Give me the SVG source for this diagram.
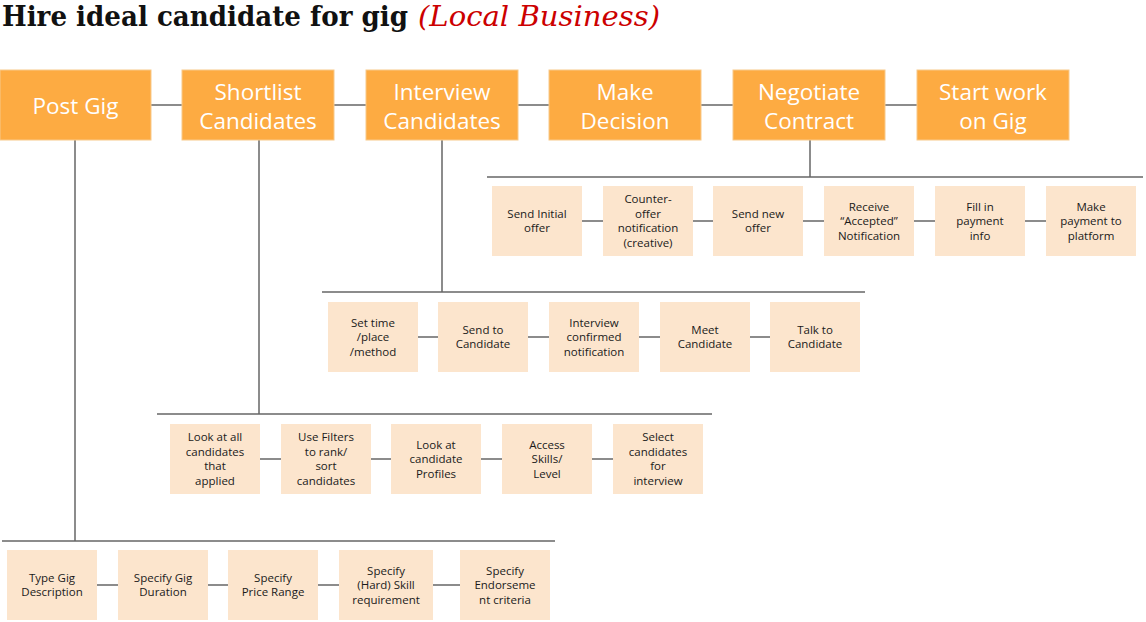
<svg xmlns="http://www.w3.org/2000/svg" width="1146" height="622" viewBox="0 0 1146 622">
<style>
.hdr{fill:#FDAB42;stroke:#F8C98A;stroke-width:1}
.hdt{font-family:"Open Sans","DejaVu Sans",sans-serif;font-size:22.5px;fill:#ffffff;text-anchor:middle}
.box{fill:#FCE5CD}
.bt{font-family:"Open Sans","DejaVu Sans",sans-serif;font-size:11.5px;fill:#1a1a1a;text-anchor:middle}
.ln{stroke:#666666;stroke-width:1.5;fill:none}
.ttl{font-family:"DejaVu Serif","Liberation Serif",serif;font-weight:bold;font-size:27px;fill:#111111}
.sub{font-family:"DejaVu Serif","Liberation Serif",serif;font-style:italic;font-size:27px;fill:#CC0000}
</style>
<rect width="1146" height="622" fill="#ffffff"/>
<g id="title">
<text x="2" y="26" class="ttl" textLength="406" lengthAdjust="spacingAndGlyphs">Hire ideal candidate for gig</text>
<text x="418" y="26" class="sub" textLength="242" lengthAdjust="spacingAndGlyphs">(Local Business)</text>
</g>
<g id="connectors">
<line class="ln" x1="151" y1="105" x2="182" y2="105"/>
<line class="ln" x1="334" y1="105" x2="366" y2="105"/>
<line class="ln" x1="518" y1="105" x2="549" y2="105"/>
<line class="ln" x1="701" y1="105" x2="733" y2="105"/>
<line class="ln" x1="885" y1="105" x2="917" y2="105"/>
<line class="ln" x1="75" y1="140" x2="75" y2="541"/>
<line class="ln" x1="259" y1="140" x2="259" y2="414"/>
<line class="ln" x1="442" y1="140" x2="442" y2="292"/>
<line class="ln" x1="810" y1="140" x2="810" y2="177"/>
<line class="ln" x1="487" y1="177" x2="1143" y2="177"/>
<line class="ln" x1="322" y1="292" x2="865" y2="292"/>
<line class="ln" x1="157" y1="414" x2="712" y2="414"/>
<line class="ln" x1="2" y1="541" x2="555" y2="541"/>
<line class="ln" x1="582" y1="221" x2="603" y2="221"/>
<line class="ln" x1="693" y1="221" x2="713" y2="221"/>
<line class="ln" x1="803" y1="221" x2="824" y2="221"/>
<line class="ln" x1="914" y1="221" x2="935" y2="221"/>
<line class="ln" x1="1025" y1="221" x2="1046" y2="221"/>
<line class="ln" x1="418" y1="337" x2="438" y2="337"/>
<line class="ln" x1="528" y1="337" x2="549" y2="337"/>
<line class="ln" x1="639" y1="337" x2="660" y2="337"/>
<line class="ln" x1="750" y1="337" x2="770" y2="337"/>
<line class="ln" x1="260" y1="459" x2="281" y2="459"/>
<line class="ln" x1="371" y1="459" x2="391" y2="459"/>
<line class="ln" x1="481" y1="459" x2="502" y2="459"/>
<line class="ln" x1="592" y1="459" x2="613" y2="459"/>
<line class="ln" x1="97" y1="585" x2="118" y2="585"/>
<line class="ln" x1="208" y1="585" x2="228" y2="585"/>
<line class="ln" x1="318" y1="585" x2="339" y2="585"/>
<line class="ln" x1="433" y1="585" x2="460" y2="585"/>
</g>
<g id="post-gig"><rect class="hdr" x="0" y="70" width="151" height="70"/><text class="hdt" x="75.5" y="114">Post Gig</text></g>
<g id="shortlist"><rect class="hdr" x="182" y="70" width="152" height="70"/><text class="hdt"><tspan x="258" y="100">Shortlist</tspan><tspan x="258" y="129">Candidates</tspan></text></g>
<g id="interview"><rect class="hdr" x="366" y="70" width="152" height="70"/><text class="hdt"><tspan x="442" y="100">Interview</tspan><tspan x="442" y="129">Candidates</tspan></text></g>
<g id="decision"><rect class="hdr" x="549" y="70" width="152" height="70"/><text class="hdt"><tspan x="625" y="100">Make</tspan><tspan x="625" y="129">Decision</tspan></text></g>
<g id="negotiate"><rect class="hdr" x="733" y="70" width="152" height="70"/><text class="hdt"><tspan x="809" y="100">Negotiate</tspan><tspan x="809" y="129">Contract</tspan></text></g>
<g id="start-work"><rect class="hdr" x="917" y="70" width="152" height="70"/><text class="hdt"><tspan x="993" y="100">Start work</tspan><tspan x="993" y="129">on Gig</tspan></text></g>

<g id="n-send-initial"><rect class="box" x="492" y="186" width="90" height="70"/><text class="bt"><tspan x="537" y="217.75">Send Initial</tspan><tspan x="537" y="232.25">offer</tspan></text></g>
<g id="n-counter"><rect class="box" x="603" y="186" width="90" height="70"/><text class="bt"><tspan x="648" y="203.25">Counter-</tspan><tspan x="648" y="217.75">offer</tspan><tspan x="648" y="232.25">notification</tspan><tspan x="648" y="246.75">(creative)</tspan></text></g>
<g id="n-send-new"><rect class="box" x="713" y="186" width="90" height="70"/><text class="bt"><tspan x="758" y="217.75">Send new</tspan><tspan x="758" y="232.25">offer</tspan></text></g>
<g id="n-receive"><rect class="box" x="824" y="186" width="90" height="70"/><text class="bt"><tspan x="869" y="210.5">Receive</tspan><tspan x="869" y="225">“Accepted”</tspan><tspan x="869" y="239.5">Notification</tspan></text></g>
<g id="n-fill"><rect class="box" x="935" y="186" width="90" height="70"/><text class="bt"><tspan x="980" y="210.5">Fill in</tspan><tspan x="980" y="225">payment</tspan><tspan x="980" y="239.5">info</tspan></text></g>
<g id="n-make-payment"><rect class="box" x="1046" y="186" width="90" height="70"/><text class="bt"><tspan x="1091" y="210.5">Make</tspan><tspan x="1091" y="225">payment to</tspan><tspan x="1091" y="239.5">platform</tspan></text></g>

<g id="n-set-time"><rect class="box" x="328" y="302" width="90" height="70"/><text class="bt"><tspan x="373" y="326.5">Set time</tspan><tspan x="373" y="341">/place</tspan><tspan x="373" y="355.5">/method</tspan></text></g>
<g id="n-send-to"><rect class="box" x="438" y="302" width="90" height="70"/><text class="bt"><tspan x="483" y="333.75">Send to</tspan><tspan x="483" y="348.25">Candidate</tspan></text></g>
<g id="n-confirmed"><rect class="box" x="549" y="302" width="90" height="70"/><text class="bt"><tspan x="594" y="326.5">Interview</tspan><tspan x="594" y="341">confirmed</tspan><tspan x="594" y="355.5">notification</tspan></text></g>
<g id="n-meet"><rect class="box" x="660" y="302" width="90" height="70"/><text class="bt"><tspan x="705" y="333.75">Meet</tspan><tspan x="705" y="348.25">Candidate</tspan></text></g>
<g id="n-talk"><rect class="box" x="770" y="302" width="90" height="70"/><text class="bt"><tspan x="815" y="333.75">Talk to</tspan><tspan x="815" y="348.25">Candidate</tspan></text></g>

<g id="n-look-all"><rect class="box" x="170" y="424" width="90" height="70"/><text class="bt"><tspan x="215" y="441.25">Look at all</tspan><tspan x="215" y="455.75">candidates</tspan><tspan x="215" y="470.25">that</tspan><tspan x="215" y="484.75">applied</tspan></text></g>
<g id="n-filters"><rect class="box" x="281" y="424" width="90" height="70"/><text class="bt"><tspan x="326" y="441.25">Use Filters</tspan><tspan x="326" y="455.75">to rank/</tspan><tspan x="326" y="470.25">sort</tspan><tspan x="326" y="484.75">candidates</tspan></text></g>
<g id="n-profiles"><rect class="box" x="391" y="424" width="90" height="70"/><text class="bt"><tspan x="436" y="448.5">Look at</tspan><tspan x="436" y="463">candidate</tspan><tspan x="436" y="477.5">Profiles</tspan></text></g>
<g id="n-access"><rect class="box" x="502" y="424" width="90" height="70"/><text class="bt"><tspan x="547" y="448.5">Access</tspan><tspan x="547" y="463">Skills/</tspan><tspan x="547" y="477.5">Level</tspan></text></g>
<g id="n-select"><rect class="box" x="613" y="424" width="90" height="70"/><text class="bt"><tspan x="658" y="441.25">Select</tspan><tspan x="658" y="455.75">candidates</tspan><tspan x="658" y="470.25">for</tspan><tspan x="658" y="484.75">interview</tspan></text></g>

<g id="n-type-gig"><rect class="box" x="7" y="550" width="90" height="70"/><text class="bt"><tspan x="52" y="581.75">Type Gig</tspan><tspan x="52" y="596.25">Description</tspan></text></g>
<g id="n-duration"><rect class="box" x="118" y="550" width="90" height="70"/><text class="bt"><tspan x="163" y="581.75">Specify Gig</tspan><tspan x="163" y="596.25">Duration</tspan></text></g>
<g id="n-price"><rect class="box" x="228" y="550" width="90" height="70"/><text class="bt"><tspan x="273" y="581.75">Specify</tspan><tspan x="273" y="596.25">Price Range</tspan></text></g>
<g id="n-skill"><rect class="box" x="339" y="550" width="94" height="70"/><text class="bt"><tspan x="386" y="574.5">Specify</tspan><tspan x="386" y="589">(Hard) Skill</tspan><tspan x="386" y="603.5">requirement</tspan></text></g>
<g id="n-endorse"><rect class="box" x="460" y="550" width="90" height="70"/><text class="bt"><tspan x="505" y="574.5">Specify</tspan><tspan x="505" y="589">Endorseme</tspan><tspan x="505" y="603.5">nt criteria</tspan></text></g>
</svg>
